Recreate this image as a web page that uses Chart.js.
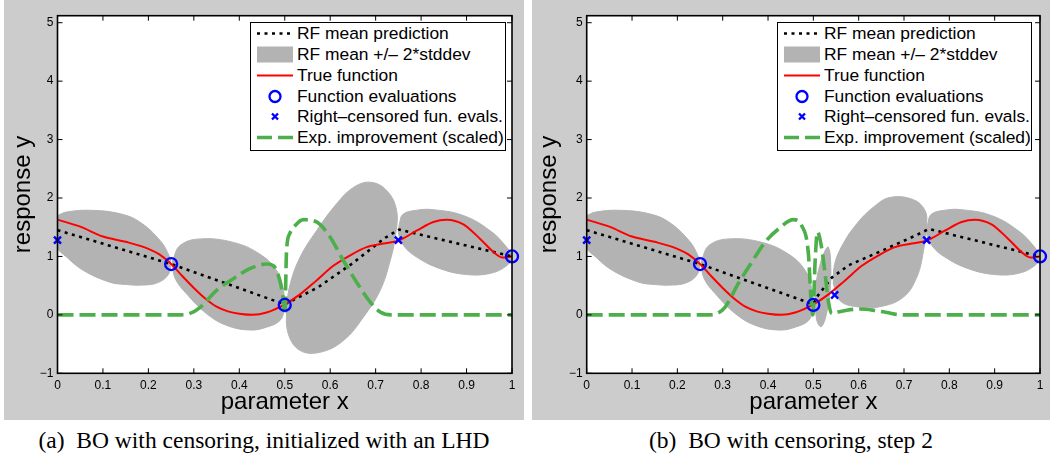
<!DOCTYPE html>
<html>
<head>
<meta charset="utf-8">
<script src="https://cdn.jsdelivr.net/npm/chart.js@4.4.1/dist/chart.umd.min.js"></script>
<style>
  body { margin: 0; width: 1050px; height: 454px; background: #fff; position: relative; overflow: hidden; }
  .panel { position: absolute; top: 0; height: 420px; background: #cccccc; }
  .panel canvas { position: absolute; left: 0; top: 0; }
  .legend { position: absolute; top: 21.5px; height: 129px; background: #fff; border: 1.5px solid #000;
            box-sizing: border-box; font: 17.4px "Liberation Sans", Arial, sans-serif; color: #000; }
  .row { position: absolute; left: 0; right: 0; height: 21px; line-height: 21px; white-space: nowrap; }
  .row svg { position: absolute; left: 4px; top: 0; }
  .row span { position: absolute; left: 46px; }
  .caption { position: absolute; top: 427px; line-height: 25px; font: 23.5px "Liberation Serif", "Times New Roman", serif;
             text-align: center; white-space: nowrap; }
</style>
</head>
<body>
<div class="panel" style="left:4px;width:520px">
  <canvas id="chartA" width="520" height="420"></canvas>
  <div class="legend" id="legendA" style="left:246px;width:256px"></div>
</div>
<div class="panel" style="left:532px;width:518px">
  <canvas id="chartB" width="518" height="420"></canvas>
  <div class="legend" id="legendB" style="left:245px;width:255px"></div>
</div>
<div class="caption" style="left:4px;width:520px">(a)&nbsp; BO with censoring, initialized with an LHD</div>
<div class="caption" style="left:532px;width:518px">(b)&nbsp; BO with censoring, step 2</div>

<script>
// ---- data ---------------------------------------------------------------
const legendLabels = ['RF mean prediction', 'RF mean +/\u2013 2*stddev', 'True function',
                      'Function evaluations', 'Right\u2013censored fun. evals.', 'Exp. improvement (scaled)'];

// true function (same in both panels)
const trueX = [0, .05, .1, .15, .2, .225, .25, .275, .3, .325, .35, .375, .4, .43, .46, .5, .535, .57, .607,
               .644, .68, .717, .75, .79, .827, .856, .893, .93, .96, .98, 1];
const trueY = [1.63, 1.51, 1.34, 1.25, 1.13, 1.03, .87, .66, .46, .28, .14, .06, .02, 0, .04, .18, .36, .59, .84,
               1.02, 1.16, 1.22, 1.27, 1.44, 1.59, 1.63, 1.55, 1.30, 1.07, .98, 1.0];

// RF mean prediction
const meanAX = [0, .25, .5, .573, .647, .721, .752, 1];
const meanAY = [1.45, .87, .18, .47, .87, 1.32, 1.46, 1.0];
const meanBX = [0, .25, .5, .507, .541, .578, .652, .726, .755, 1];
const meanBY = [1.45, .87, .18, .30, .64, .85, 1.10, 1.36, 1.47, 1.0];

// function evaluations / right-censored evaluations
const evalX = [.25, .5, 1];
const evalY = [.87, .17, 1.0];
const censAX = [0, .75];
const censAY = [1.28, 1.28];
const censBX = [0, .547, .75];
const censBY = [1.28, .34, 1.28];

// expected improvement (scaled)
const eiAX = [0, .27, .29, .314, .35, .387, .423, .46, .475, .489, .497, .5, .504, .511, .523, .541, .57, .6,
              .629, .658, .688, .71, .735, 1];
const eiAY = [0, 0, .02, .13, .42, .62, .79, .87, .84, .59, .25, 0, 1.10, 1.39, 1.53, 1.63, 1.59, 1.33,
              .93, .56, .22, .05, 0, 0];
const eiBX = [0, .27, .283, .305, .334, .364, .393, .423, .456, .474, .489, .495, .499, .504, .509, .518, .526,
              .533, .541, .555, .574, .603, .632, .662, .695, 1];
const eiBY = [0, 0, .01, .13, .53, .90, 1.24, 1.47, 1.63, 1.53, 1.05, .25, 0, .93, 1.42, 1.16, .70,
              .24, .02, .05, .08, .10, .08, .04, 0, 0];

// mean +/- 2*stddev regions, outlines as [x, y]
const blob1 = [[0, 1.70], [.02, 1.76], [.072, 1.79], [.138, 1.73], [.181, 1.59], [.226, 1.27], [.245, 1.02],
               [.249, .87], [.243, .68], [.22, .55], [.189, .51], [.15, .52], [.115, .56], [.057, .76],
               [.02, .99], [0, 1.16]];
const blob2 = [[.253, .93], [.27, 1.19], [.314, 1.30], [.387, 1.24], [.445, 1.04], [.482, .76], [.497, .42],
               [.498, .07], [.489, -.10], [.46, -.21], [.424, -.26], [.372, -.18], [.328, .02], [.284, .36],
               [.258, .64]];
const blob3A = [[.503, .13], [.512, .53], [.534, .99], [.570, 1.44], [.614, 1.90], [.651, 2.18], [.688, 2.27],
                [.724, 2.13], [.746, 1.79], [.743, 1.33], [.732, .93], [.710, .42], [.673, -.04], [.629, -.44],
                [.578, -.64], [.534, -.61], [.508, -.33]];
const blob4 = [[.752, 1.55], [.760, 1.72], [.790, 1.79], [.827, 1.80], [.893, 1.70], [.952, 1.44], [.988, 1.16],
               [1.0, .99], [.988, .84], [.952, .71], [.900, .69], [.842, .79], [.790, .99], [.761, 1.19],
               [.750, 1.41]];
const blob3B = [[.504, .13], [.506, .53], [.515, .87], [.526, 1.10], [.533, 1.16], [.538, .93], [.537, .42],
                [.529, .02], [.518, -.20], [.509, -.13]];
const blob4B = [[.544, .53], [.547, .87], [.566, 1.22], [.596, 1.56], [.632, 1.84], [.669, 2.01], [.721, 1.97],
                [.746, 1.79], [.750, 1.56], [.743, 1.10], [.728, .64], [.698, .30], [.647, .14], [.596, .14],
                [.559, .24]];

const blobsA = [blob1, blob2, blob3A, blob4];
const blobsB = [blob1, blob2, blob3B, blob4B, blob4];

// ---- drawing --------------------------------------------------------------
const FONT = '"Liberation Sans", Arial, sans-serif';
const GREY = '#b3b3b3';
const GREEN = '#4daf4a';

const pts = (xs, ys) => xs.map((x, i) => ({x: x, y: ys[i]}));

// white plot area, box and inward ticks on all four sides (matlab style)
const matlabAxes = {
  id: 'matlabAxes',
  beforeDraw(chart) {
    const {ctx, chartArea: a} = chart;
    ctx.save();
    ctx.fillStyle = '#fff';
    ctx.fillRect(a.left, a.top, a.width, a.height);
    ctx.restore();
  },
  afterDatasetsDraw(chart) {
    const {ctx, chartArea: a, scales} = chart;
    ctx.save();
    ctx.strokeStyle = '#000';
    ctx.lineWidth = 1;
    ctx.beginPath();
    scales.x.ticks.forEach(t => {
      const px = scales.x.getPixelForValue(t.value);
      ctx.moveTo(px, a.bottom); ctx.lineTo(px, a.bottom - 5);
      ctx.moveTo(px, a.top); ctx.lineTo(px, a.top + 5);
    });
    scales.y.ticks.forEach(t => {
      const py = scales.y.getPixelForValue(t.value);
      ctx.moveTo(a.left, py); ctx.lineTo(a.left + 5, py);
      ctx.moveTo(a.right, py); ctx.lineTo(a.right - 5, py);
    });
    ctx.stroke();
    ctx.lineWidth = 1.6;
    ctx.strokeRect(a.left, a.top, a.width, a.height);
    ctx.restore();
  }
};

function buildChart(id, blobs, meanX, meanY, censX, censY, eiX, eiY, yAxisWidth, rightPad, yTitlePad) {
  const datasets = [];

  blobs.forEach(b => {
    datasets.push({
      data: b.concat([b[0]]).map(p => ({x: p[0], y: p[1]})),
      showLine: true,
      fill: 'shape',
      backgroundColor: GREY,
      borderColor: GREY,
      borderWidth: 1,
      tension: 0.4,
      pointRadius: 0,
      order: 10
    });
  });

  datasets.push({
    data: pts(meanX, meanY), showLine: true, borderColor: '#000', borderWidth: 2.6,
    borderDash: [3, 4.5], pointRadius: 0, order: 5
  });
  datasets.push({
    data: pts(trueX, trueY), showLine: true, borderColor: '#ff0000', borderWidth: 2,
    cubicInterpolationMode: 'monotone', pointRadius: 0, order: 4
  });
  datasets.push({
    data: pts(eiX, eiY), showLine: true, borderColor: GREEN, borderWidth: 3.6,
    borderDash: [16, 6], cubicInterpolationMode: 'monotone', pointRadius: 0, order: 3
  });
  datasets.push({
    data: pts(evalX, evalY), showLine: false, pointStyle: 'circle', pointRadius: 6,
    pointBorderWidth: 2.3, pointBorderColor: '#0000ff', pointBackgroundColor: 'rgba(0,0,0,0)',
    clip: false, order: 1
  });
  datasets.push({
    data: pts(censX, censY), showLine: false, pointStyle: 'crossRot', pointRadius: 5,
    pointBorderWidth: 2.4, pointBorderColor: '#0000ff', clip: false, order: 0
  });

  return new Chart(document.getElementById(id), {
    type: 'scatter',
    data: {datasets: datasets},
    options: {
      responsive: false,
      animation: false,
      events: [],
      layout: {padding: {top: 15.7, right: rightPad, left: 0, bottom: 0}},
      plugins: {legend: {display: false}, tooltip: {enabled: false}},
      scales: {
        x: {
          type: 'linear', min: 0, max: 1,
          afterFit: s => { s.height = 46.7; },
          grid: {display: false, drawTicks: false},
          border: {display: false},
          ticks: {
            stepSize: 0.1, includeBounds: false, autoSkip: false, maxRotation: 0, padding: 5,
            color: '#000', font: {family: FONT, size: 12},
            callback: v => String(+v.toFixed(1))
          },
          title: {display: true, text: 'parameter x', color: '#000', font: {family: FONT, size: 24},
                  padding: {top: 0, bottom: 3}}
        },
        y: {
          type: 'linear', min: -1, max: 5.12,
          afterFit: s => { s.width = yAxisWidth; },
          grid: {display: false, drawTicks: false},
          border: {display: false},
          ticks: {
            stepSize: 1, includeBounds: false, padding: 4,
            color: '#000', font: {family: FONT, size: 12},
            callback: v => v < 0 ? '\u2212' + Math.abs(v) : String(v)
          },
          title: {display: true, text: 'response y', color: '#000', font: {family: FONT, size: 24},
                  padding: {top: yTitlePad, bottom: 0}}
        }
      }
    },
    plugins: [matlabAxes]
  });
}

function buildLegend(id) {
  const samples = [
    '<line x1="2" y1="10.5" x2="38" y2="10.5" stroke="#000" stroke-width="2.6" stroke-dasharray="3 4.5"/>',
    '<rect x="2" y="2.5" width="36" height="16" fill="' + GREY + '"/>',
    '<line x1="2" y1="10.5" x2="38" y2="10.5" stroke="#ff0000" stroke-width="2"/>',
    '<circle cx="20" cy="10.5" r="5.5" fill="none" stroke="#0000ff" stroke-width="2.3"/>',
    '<path d="M17 7.5l6 6M23 7.5l-6 6" stroke="#0000ff" stroke-width="2.3"/>',
    '<line x1="2" y1="10.5" x2="38" y2="10.5" stroke="' + GREEN + '" stroke-width="3.6" stroke-dasharray="15 6"/>'
  ];
  const box = document.getElementById(id);
  box.innerHTML = legendLabels.map((txt, i) =>
    '<div class="row" style="top:' + (0.8 + i * 20.75) + 'px">' +
    '<svg width="40" height="21">' + samples[i] + '</svg><span>' + txt + '</span></div>'
  ).join('');
}

buildChart('chartA', blobsA, meanAX, meanAY, censAX, censAY, eiAX, eiAY, 53.5, 12, 5);
buildChart('chartB', blobsB, meanBX, meanBY, censBX, censBY, eiBX, eiBY, 54.7, 10, 3);
buildLegend('legendA');
buildLegend('legendB');
</script>
</body>
</html>
